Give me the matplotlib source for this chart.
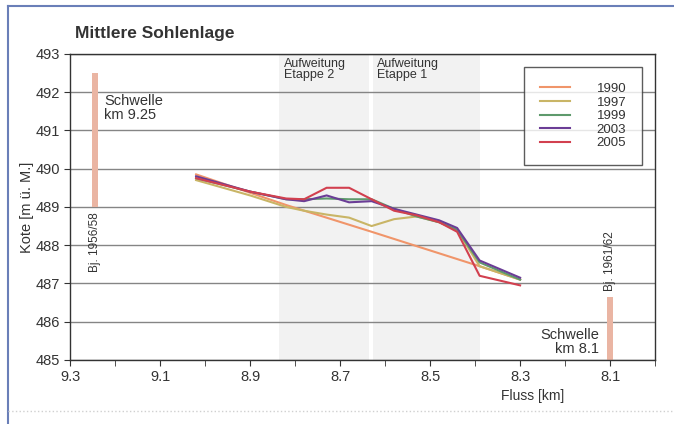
import numpy as np
import matplotlib.pyplot as plt
from matplotlib.patches import Rectangle
from matplotlib.ticker import MultipleLocator

plt.rcParams['font.family'] = ['Liberation Sans', 'DejaVu Sans']

# Flusskilometer der Messprofile
km = [9.02, 8.9, 8.82, 8.78, 8.73, 8.68, 8.63, 8.58, 8.53, 8.48, 8.44, 8.39, 8.30]
km_1990 = [9.02, 8.82, 8.63, 8.39, 8.30]

sohle_1990 = [489.85, 489.05, 488.35, 487.45, 487.1]
sohle_1997 = [489.7, 489.3, 489.0, 488.9, 488.8, 488.72, 488.5, 488.68, 488.75, 488.6, 488.4, 487.45, 487.1]
sohle_1999 = [489.75, 489.4, 489.2, 489.2, 489.22, 489.2, 489.2, 488.95, 488.75, 488.6, 488.4, 487.55, 487.1]
sohle_2003 = [489.8, 489.4, 489.2, 489.15, 489.3, 489.12, 489.15, 488.95, 488.8, 488.65, 488.45, 487.6, 487.15]
sohle_2005 = [489.75, 489.4, 489.22, 489.2, 489.5, 489.5, 489.2, 488.9, 488.78, 488.6, 488.35, 487.2, 486.95]

jahre = ['1990', '1997', '1999', '2003', '2005']
farben = ['#f0956a', '#c9b566', '#5e9a6c', '#6b3d96', '#d2404f']

# Schwellen: km, Unterkante, Oberkante
schwelle_km = [9.245, 8.1]
schwelle_unten = [489.0, 485.0]
schwelle_oben = [492.5, 486.65]

# Aufweitungen (Etappe 2, Etappe 1)
aufw_von = [8.835, 8.628]
aufw_bis = [8.636, 8.39]

fig = plt.figure(figsize=(6.74, 4.24), dpi=100)
ax = fig.add_axes([0.104, 0.151, 0.868, 0.722])

for a, b in zip(aufw_von, aufw_bis):
    ax.axvspan(a, b, color='#f2f2f2', zorder=0, lw=0)

ax.yaxis.grid(True, color='#858585', lw=1.0, zorder=1)

series = [(km_1990, sohle_1990), (km, sohle_1997), (km, sohle_1999), (km, sohle_2003), (km, sohle_2005)]
for (x, y), jahr, c in zip(series, jahre, farben):
    ax.plot(x, y, color=c, lw=1.5, label=jahr, zorder=3)

for k, u, o in zip(schwelle_km, schwelle_unten, schwelle_oben):
    ax.add_patch(Rectangle((k + 0.007, u), -0.014, o - u, color='#eab5a3', lw=0, zorder=2))

txt = '#333333'
ax.text(9.225, 491.95, 'Schwelle\nkm 9.25', fontsize=10.5, color=txt, va='top', ha='left', linespacing=1.0)
ax.text(9.245, 488.85, 'Bj. 1956/58', fontsize=8.5, color=txt, rotation=90, va='top', ha='center')
ax.text(8.1, 486.8, 'Bj. 1961/62', fontsize=8.5, color=txt, rotation=90, va='bottom', ha='center')
ax.text(8.125, 485.1, 'Schwelle\nkm 8.1', fontsize=10.5, color=txt, va='bottom', ha='right', linespacing=1.0)
ax.text(8.825, 492.9, 'Aufweitung\nEtappe 2', fontsize=9, color=txt, va='top', ha='left', linespacing=0.95)
ax.text(8.618, 492.9, 'Aufweitung\nEtappe 1', fontsize=9, color=txt, va='top', ha='left', linespacing=0.95)

ax.set_xlim(9.3, 8.0)
ax.set_ylim(485, 493)
ax.xaxis.set_major_locator(MultipleLocator(0.2))
ax.xaxis.set_minor_locator(MultipleLocator(0.1))
ax.set_xticks(np.arange(9.3, 8.0, -0.2))
ax.set_xticklabels(['9.3', '9.1', '8.9', '8.7', '8.5', '8.3', '8.1'])
ax.yaxis.set_major_locator(MultipleLocator(1))
ax.tick_params(axis='both', labelsize=10.5, labelcolor=txt, length=4, color='#333333')
ax.tick_params(axis='x', which='minor', length=4, color='#333333')
for s in ax.spines.values():
    s.set_color('#333333')
    s.set_linewidth(1.0)

ax.set_ylabel('Kote [m ü. M.]', fontsize=10.5, color=txt)
ax.yaxis.set_label_coords(-0.062, 0.5)
ax.set_xlabel('Fluss [km]', fontsize=10, color=txt)
ax.xaxis.set_label_coords(0.79, -0.095)

leg = ax.legend(loc='upper right', bbox_to_anchor=(0.978, 0.957), fontsize=9.5, frameon=True,
                fancybox=False, edgecolor='#333333', markerfirst=True, handlelength=2.3,
                handletextpad=2.0, borderpad=1.2, labelspacing=0.1, borderaxespad=0)
leg.get_frame().set_linewidth(1.0)
for t in leg.get_texts():
    t.set_color(txt)

fig.text(0.111, 0.922, 'Mittlere Sohlenlage', fontsize=12.5, fontweight='bold', color=txt, va='center')

# Rahmen der Abbildung
fig.add_artist(plt.Line2D([0.012, 0.012], [0.0, 0.985], color='#6a7fb8', lw=1.5))
fig.add_artist(plt.Line2D([0.012, 1.0], [0.985, 0.985], color='#6a7fb8', lw=1.5))
fig.add_artist(plt.Line2D([0.012, 1.0], [0.03, 0.03], color='#d0d0d0', lw=1.0, ls=':'))

fig.savefig('out.png', dpi=100)
